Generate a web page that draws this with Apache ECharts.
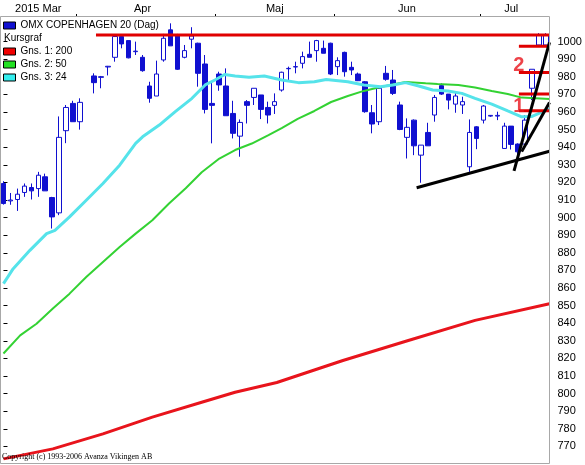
<!DOCTYPE html>
<html>
<head>
<meta charset="utf-8">
<script src="https://cdn.jsdelivr.net/npm/echarts@6/dist/echarts.min.js"></script>
<style>
  html, body { margin: 0; padding: 0; background: #fff; }
  #chart { width: 585px; height: 465px; }
</style>
</head>
<body>
<div id="chart"></div>
<script>
// trading days (2015-04-02 kept as an empty slot, like the original)
const days = [
  '2015-03-17', '2015-03-18', '2015-03-19', '2015-03-20', '2015-03-23', '2015-03-24', '2015-03-25',
  '2015-03-26', '2015-03-27', '2015-03-30', '2015-03-31',
  '2015-04-01', '2015-04-02', '2015-04-07', '2015-04-08', '2015-04-09', '2015-04-10', '2015-04-13',
  '2015-04-14', '2015-04-15', '2015-04-16', '2015-04-17', '2015-04-20', '2015-04-21', '2015-04-22',
  '2015-04-23', '2015-04-24', '2015-04-27', '2015-04-28', '2015-04-29', '2015-04-30',
  '2015-05-04', '2015-05-05', '2015-05-06', '2015-05-07', '2015-05-08', '2015-05-11', '2015-05-12',
  '2015-05-13', '2015-05-18', '2015-05-19', '2015-05-20', '2015-05-21', '2015-05-22', '2015-05-26',
  '2015-05-27', '2015-05-28', '2015-05-29',
  '2015-06-01', '2015-06-02', '2015-06-03', '2015-06-04', '2015-06-08', '2015-06-09', '2015-06-10',
  '2015-06-11', '2015-06-12', '2015-06-15', '2015-06-16', '2015-06-17', '2015-06-18', '2015-06-19',
  '2015-06-22', '2015-06-23', '2015-06-24', '2015-06-25', '2015-06-26', '2015-06-29', '2015-06-30',
  '2015-07-01', '2015-07-02', '2015-07-03', '2015-07-06', '2015-07-07', '2015-07-08', '2015-07-09',
  '2015-07-10', '2015-07-13', '2015-07-14'
]

const opens = [
  919.4, 909.5, 910.3, 914.3, 917.1, 916.5, 923.2, 911.4, 902.7, 949.4, 964.9,
  954.5, null, 980.5, 979.7, 985.6, 991.1, 1002.9, 1000.6, 994.3, 991.1, 974.8, 969.1, 989.6, 1006.7,
  1003.8, 991.1, 1001.4, 999.1, 987.3, 964.9,
  981.6, 974.8, 959.2, 946.3, 965.9, 968.3, 969.7, 962.6, 963.8, 972.5, 984.6, 985.6, 987.7, 992.8,
  994.9, 996.2, 999.1,
  985.8, 993.9, 985.4, 981.6, 977.2, 959.6, 954.5, 982.0, 978.2, 964.0, 945.6, 955.4, 935.5, 948.4,
  958.3, 975.0, 970.2, 964.5, 964.0, 928.9, 951.6,
  955.4, 957.7, 957.7, 939.3, 952.0, 941.8, 941.8, 973.5, 998.1, 998.1
]
const closes = [
  908.0, 910.0, 913.3, 917.9, 915.2, 924.1, 915.2, 900.4, 945.6, 962.6, 954.5,
  965.5, null, 976.7, 980.1, 986.0, 1002.9, 998.7, 990.8, 994.6, 983.5, 967.8, 981.6, 1001.9, 997.6,
  984.3, 994.9, 1003.2, 982.0, 961.5, 963.8,
  975.4, 957.9, 947.9, 954.1, 963.8, 973.5, 961.5, 958.3, 965.9, 982.6, 984.8, 985.8, 991.5, 991.1,
  1000.6, 993.4, 981.6,
  989.2, 982.9, 983.9, 977.8, 960.2, 953.2, 973.5, 978.6, 970.6, 950.1, 951.3, 940.8, 941.2, 940.8,
  968.3, 970.2, 966.8, 969.1, 965.9, 948.4, 945.0,
  963.4, 958.1, 958.1, 952.0, 941.6, 937.4, 955.4, 984.3, 1003.8, 1003.8
]
const lows = [
  907.4, 907.3, 903.8, 911.8, 910.3, 911.8, 915.2, 893.8, 901.4, 942.3, 954.5,
  950.0, null, 970.6, 973.5, 980.8, 988.6, 996.2, 990.5, 992.4, 982.9, 965.3, 969.1, 988.6, 997.6,
  983.9, 990.5, 996.2, 974.4, 959.2, 942.2,
  972.1, 957.9, 945.0, 934.6, 953.5, 964.0, 956.0, 953.5, 958.9, 971.6, 978.2, 982.0, 984.8, 991.1,
  988.6, 993.4, 981.0,
  981.0, 980.1, 981.0, 977.6, 959.6, 947.9, 952.6, 977.8, 969.7, 949.7, 933.6, 935.5, 919.8, 940.8,
  954.5, 969.7, 961.5, 959.6, 958.9, 926.0, 938.9,
  953.5, 957.3, 955.4, 939.3, 938.7, 934.6, 940.3, 966.8, 997.6, 997.6
]
const highs = [
  920.7, 914.0, 916.5, 919.4, 919.4, 926.0, 925.0, 911.8, 957.5, 964.0, 966.4,
  967.8, null, 982.0, 980.5, 986.2, 1003.8, 1003.8, 1000.6, 1000.0, 992.4, 977.2, 989.2, 1004.4, 1010.4,
  1004.4, 998.1, 1008.2, 999.4, 992.4, 977.0,
  982.9, 984.8, 966.4, 955.8, 966.8, 973.5, 969.7, 965.9, 970.6, 982.9, 985.8, 988.6, 994.3, 1000.0,
  1001.0, 1000.6, 999.4,
  991.1, 994.3, 988.6, 982.4, 977.6, 964.0, 974.4, 986.2, 983.9, 965.9, 956.4, 955.8, 941.2, 953.9,
  969.7, 976.3, 970.2, 971.6, 968.7, 955.8, 952.0,
  964.0, 958.3, 960.2, 953.9, 952.0, 942.2, 958.3, 984.3, 1004.8, 1004.8
]

// moving averages at these day positions
const ma200At = [0, 7.1, 14.3, 21.4, 28.5, 33.3, 39.3, 48.8, 58.2, 67.8, 78.5]
const ma200 = [762.9, 768.6, 777.1, 786.6, 795.1, 800.8, 806.3, 818.8, 830.2, 841.6, 851.1]

const ma50At = [0, 2.4, 4.75, 7.1, 9.5, 11.9, 14.3, 16.7, 19.0, 21.4, 23.8, 26.2, 28.5, 30.9, 33.3,
  35.7, 38.1, 40.0, 42.3, 44.7, 47.1, 49.5, 51.8, 54.2, 57.8, 60.7, 62.4, 65.4, 67.8, 70.2, 72.5,
  74.5, 78.5]
const ma50 = [822.8, 833.1, 839.7, 848.3, 856.8, 866.3, 874.8, 883.3, 890.9, 898.5, 908.0, 916.7,
  925.8, 933.2, 938.4, 942.1, 946.9, 950.9, 956.1, 960.6, 965.7, 969.1, 972.0, 974.2, 977.1, 976.3,
  975.9, 975.4, 973.9, 971.9, 970.2, 968.2, 967.4]

const ma24At = [0, 1.4, 3.8, 6.2, 7.4, 9.5, 11.9, 14.3, 16.7, 19.0, 20.0, 22.4, 24.7, 27.1, 29.0,
  30.4, 31.8, 33.3, 35.3, 37.5, 40.0, 42.4, 44.7, 46.4, 49.5, 51.8, 54.2, 56.0, 57.8, 59.7, 61.7,
  63.9, 65.9, 67.8, 70.2, 72.5, 74.5, 75.9, 77.4, 78.5]
const ma24 = [862.5, 871.0, 881.4, 890.9, 892.8, 900.4, 909.9, 919.4, 929.8, 942.2, 945.9, 952.6,
  960.2, 967.8, 975.4, 978.2, 981.3, 980.5, 979.7, 980.5, 978.2, 976.7, 977.2, 978.5, 977.2, 975.4,
  974.4, 975.4, 976.7, 974.8, 972.5, 971.9, 970.6, 967.8, 964.5, 960.6, 957.3, 957.4, 960.0, 961.7]

// drawn trend lines [day position, value]
const supportLine = [[59.4, 917.0], [78.5, 937.7]]
const steepLine = [[73.4, 926.6], [78.5, 999.6]]
const middleLine = [[74.5, 937.5], [78.5, 965.4]]
const topLevel = [[13.3, 1003.8], [78.5, 1003.8]]
const levelsFrom = 74.1
const levels = [997.4, 982.5, 970.2, 960.7]
const levelMarks = [{ text: '2', at: [74.1, 986.5] }, { text: '1', at: [74.1, 963.4] }]

// axis texts
const monthNames = ['2015 Mar', 'Apr', 'Maj', 'Jun', 'Jul']
const monthLabelDays = ['2015-03-24', '2015-04-16', '2015-05-18', '2015-06-16', '2015-07-07']
const monthStartDays = ['2015-04-01', '2015-05-04', '2015-06-01', '2015-07-01']
const yTicks = [770, 780, 790, 800, 810, 820, 830, 840, 850, 860, 870, 880, 890, 900, 910, 920, 930,
  940, 950, 960, 970, 980, 990, 1000]

const BLUE = '#1010d0'
const FONT = 'Liberation Sans, Arial, sans-serif'

const candles = days.map((d, i) =>
  opens[i] === null ? '-' : [opens[i], closes[i], lows[i], highs[i]])
const pairs = (xs, ys) => xs.map((x, i) => [x, ys[i]])
// month ticks sit on the boundary before the first day of the month
const monthTicks = monthStartDays.map((d) => days.indexOf(d) - 0.5)

const overlay = (name, data, color, width, z) => ({
  name,
  type: 'line',
  xAxisIndex: 1,
  data,
  symbol: 'none',
  silent: true,
  z,
  lineStyle: { color, width }
})

const series = [
  {
    name: 'OMX COPENHAGEN 20 (Dag)',
    type: 'candlestick',
    data: candles,
    barWidth: 5,
    z: 2,
    itemStyle: {
      color: '#ffffff',
      color0: BLUE,
      borderColor: BLUE,
      borderColor0: BLUE,
      borderWidth: 1
    }
  },
  overlay('Gns. 1: 200', pairs(ma200At, ma200), '#e8141c', 3, 3),
  overlay('Gns. 2: 50', pairs(ma50At, ma50), '#33d233', 2, 3),
  overlay('Gns. 3: 24', pairs(ma24At, ma24), '#55e3ea', 3, 3),
  overlay('top', topLevel, '#e00000', 3, 4),
  ...levels.map((v, i) => overlay('lvl' + i, [[levelsFrom, v], [78.5, v]], '#e00000', 3, 4)),
  overlay('support', supportLine, '#000', 3, 5),
  overlay('steep', steepLine, '#000', 3, 5),
  overlay('middle', middleLine, '#000', 3, 5),
  {
    type: 'scatter',
    xAxisIndex: 1,
    silent: true,
    z: 4,
    symbolSize: 1,
    itemStyle: { color: 'rgba(0,0,0,0)' },
    data: levelMarks.map((m) => ({ value: m.at, name: m.text })),
    label: {
      show: true,
      position: 'inside',
      formatter: '{b}',
      color: '#e8141c',
      textBorderWidth: 0,
      fontSize: 20,
      fontWeight: 'bold',
      fontFamily: FONT
    }
  }
]

const legendBase = {
  orient: 'vertical',
  left: 3,
  icon: 'rect',
  itemWidth: 12,
  itemHeight: 7,
  itemGap: 0,
  padding: 0,
  selectedMode: false,
  textStyle: { fontSize: 10, fontFamily: FONT, color: '#000', lineHeight: 13 }
}
const box = (color) => ({ color, borderColor: '#000', borderWidth: 1 })

const option = {
  animation: false,
  backgroundColor: '#fff',
  grid: { left: -3.5, right: 35.5, top: 17, bottom: 1 },
  legend: [
    Object.assign({}, legendBase, {
      top: 19,
      data: [{ name: 'OMX COPENHAGEN 20 (Dag)', itemStyle: box(BLUE) }]
    }),
    Object.assign({}, legendBase, {
      top: 45,
      data: [
        { name: 'Gns. 1: 200', itemStyle: box('#f00000') },
        { name: 'Gns. 2: 50', itemStyle: box('#22e022') },
        { name: 'Gns. 3: 24', itemStyle: box('#33eeee') }
      ]
    })
  ],
  xAxis: [
    {
      type: 'category',
      data: days,
      position: 'top',
      boundaryGap: true,
      axisLine: { show: false },
      axisTick: { show: false },
      axisLabel: {
        interval: (index, value) => monthLabelDays.includes(value),
        formatter: (value) => monthNames[monthLabelDays.indexOf(value)] || '',
        margin: 3,
        fontSize: 11,
        fontFamily: FONT,
        color: '#000'
      },
      splitLine: { show: false }
    },
    {
      type: 'value',
      min: -0.5,
      max: 78.5,
      position: 'top',
      axisLine: { show: false },
      axisLabel: { show: false },
      axisTick: { show: true, length: 3, customValues: monthTicks, lineStyle: { color: '#000' } },
      splitLine: { show: false }
    }
  ],
  yAxis: {
    type: 'value',
    position: 'right',
    min: 760,
    max: 1014,
    interval: 10,
    axisLine: { show: false },
    axisTick: { show: true, length: 4, customValues: yTicks, lineStyle: { color: '#000' } },
    axisLabel: {
      customValues: yTicks,
      formatter: (v) => (v >= 770 && v <= 1000 ? String(v) : ''),
      margin: 8,
      fontSize: 11,
      fontFamily: FONT,
      color: '#000'
    },
    splitLine: { show: false }
  },
  graphic: [
    {
      type: 'rect',
      z: 50,
      silent: true,
      shape: { x: 0.5, y: 16.5, width: 549, height: 447 },
      style: { fill: 'none', stroke: '#a8a8a8', lineWidth: 1 }
    },
    {
      type: 'text',
      left: 4,
      top: 33,
      style: { text: 'Kursgraf', font: '10px ' + FONT, fill: '#000' }
    },
    {
      type: 'text',
      left: 2,
      top: 453,
      z: 60,
      style: { text: 'Copyright (c) 1993-2006 Avanza Vikingen AB', font: '8px Liberation Serif, serif', fill: '#000' }
    }
  ],
  series
}

const chart = echarts.init(document.getElementById('chart'), null, { renderer: 'canvas' })
chart.setOption(option)
</script>
</body>
</html>
